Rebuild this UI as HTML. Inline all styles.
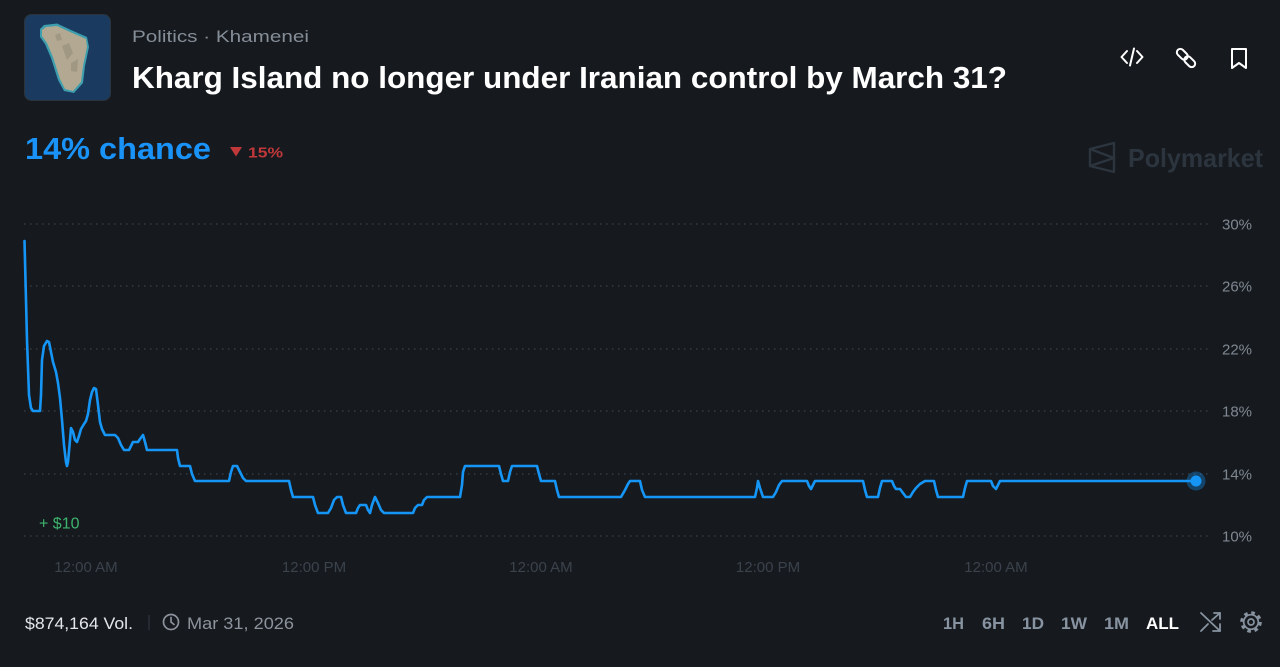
<!DOCTYPE html>
<html>
<head>
<meta charset="utf-8">
<style>
  html,body{margin:0;padding:0;background:#161a1f;}
  body{width:1280px;height:667px;overflow:hidden;}
  svg{display:block;font-family:"Liberation Sans",sans-serif;}
</style>
</head>
<body>
<svg width="1280" height="667" viewBox="0 0 1280 667" xmlns="http://www.w3.org/2000/svg">
  <rect x="0" y="0" width="1280" height="667" fill="#161a1f"/>

  <!-- Island image -->
  <rect x="24.5" y="14.5" width="86" height="86" rx="7" fill="#1c3b5f" stroke="#2b333d" stroke-width="1"/>
  <rect x="26" y="16" width="83" height="83" rx="6" fill="#1a3a60"/>
  <path d="M40,29 L44,25 L57,23.5 L71,30 L87,37 L89,47 L85,66 L83,83 L74,93 L64,91 L58,80 L51,58 L45,44 L40,37 Z" fill="#3d9fae"/>
  <path d="M42,30 L46,27 L57,26 L70,32 L86,39 L87,47 L83,66 L81,82 L73,91 L65,89 L60,79 L53,57 L47,43 L42,36 Z" fill="#b3a892"/>
  <path d="M62,46 L69,43 L73,53 L67,60 Z M71,63 L78,59 L77,72 L71,71 Z M55,35 L60,33 L62,40 L57,41 Z" fill="#958d7c" opacity="0.6"/>

  <!-- Header text -->
  <text x="132" y="42" font-size="17" fill="#858d97" textLength="177" lengthAdjust="spacingAndGlyphs">Politics · Khamenei</text>
  <text x="132" y="88" font-size="31" font-weight="bold" fill="#ffffff" textLength="875" lengthAdjust="spacingAndGlyphs">Kharg Island no longer under Iranian control by March 31?</text>

  <!-- Top right icons -->
  <g fill="none" stroke="#ffffff" stroke-width="2" stroke-linecap="round" stroke-linejoin="round">
    <path d="M1127 51 L1121.5 57 L1127 63"/>
    <path d="M1137 51 L1142.5 57 L1137 63"/>
    <path d="M1134 48.5 L1130 65.5"/>
    <g transform="rotate(45 1186 58)">
      <rect x="1174.5" y="54.5" width="12.5" height="7" rx="3.5"/>
      <rect x="1185" y="54.5" width="12.5" height="7" rx="3.5"/>
    </g>
    <path d="M1232 49 H1246 V68 L1239 63 L1232 68 Z"/>
  </g>

  <!-- Chance -->
  <text x="25" y="159" font-size="31" font-weight="bold" fill="#1a93f8" textLength="186" lengthAdjust="spacingAndGlyphs">14% chance</text>
  <path d="M230 147 L242 147 L236 156.5 Z" fill="#c0383a"/>
  <text x="248" y="157.5" font-size="15" font-weight="bold" fill="#c0383a" textLength="35" lengthAdjust="spacingAndGlyphs">15%</text>

  <!-- Polymarket watermark -->
  <g fill="none" stroke="#2c343e" stroke-width="2.4" stroke-linejoin="round">
    <path d="M1090 149 L1114 143 L1114 172 L1090 166 Z"/>
    <path d="M1090 149 L1114 158 L1090 166"/>
  </g>
  <text x="1128" y="167" font-size="26" font-weight="bold" fill="#2c343e" textLength="135" lengthAdjust="spacingAndGlyphs">Polymarket</text>

  <!-- Grid lines -->
  <g stroke="#333a44" stroke-width="1.5" stroke-dasharray="1.5 4.5">
    <line x1="24" y1="224" x2="1208" y2="224"/>
    <line x1="24" y1="286" x2="1208" y2="286"/>
    <line x1="24" y1="349" x2="1208" y2="349"/>
    <line x1="24" y1="411" x2="1208" y2="411"/>
    <line x1="24" y1="474" x2="1208" y2="474"/>
    <line x1="24" y1="536" x2="1208" y2="536"/>
  </g>

  <!-- Y labels -->
  <g font-size="15" fill="#7f8791">
    <text x="1222" y="229.5">30%</text>
    <text x="1222" y="291.5">26%</text>
    <text x="1222" y="354.5">22%</text>
    <text x="1222" y="416.5">18%</text>
    <text x="1222" y="479.5">14%</text>
    <text x="1222" y="541.5">10%</text>
  </g>

  <!-- X labels -->
  <g font-size="15" fill="#3b424c" text-anchor="middle">
    <text x="86" y="572">12:00 AM</text>
    <text x="314" y="572">12:00 PM</text>
    <text x="541" y="572">12:00 AM</text>
    <text x="768" y="572">12:00 PM</text>
    <text x="996" y="572">12:00 AM</text>
  </g>

  <!-- + $10 -->
  <text x="39" y="528.5" font-size="16" fill="#3db46d">+ $10</text>

  <!-- Series -->
  <polyline fill="none" stroke="#1596f7" stroke-width="2.6" stroke-linejoin="round" stroke-linecap="round"
    points="24.5,241 26,300 27,340 29,395 31,408 33,411 40,411 41,395 42,360 44,346 47,341 49,342 51,352 53,362 56,372 58,383 60,398 62,420 64,445 66,462 67,466 68,462 70,440 71,428 73,432 75,440 77,442 79,436 81,429 84,424 86,421 88,414 90,400 92,392 94,388 96,389 98,405 100,422 102,429 105,435 115,435 118,438 121,445 124,450 129,450 131,446 133,442 138,442 140,439 143,435 145,442 147,450 177,450 178,458 180,466 190,466 192,474 195,481 229,481 231,472 233,466 237,466 240,472 243,478 246,481 289,481 291,490 293,497 313,497 315,505 318,513 328,513 331,508 334,500 337,497 341,497 343,505 346,513 356,513 358,508 360,505 366,505 368,510 370,513 372,505 375,497 378,503 381,510 384,513 413,513 415,508 418,505 422,505 424,500 427,497 460,497 462,485 463,472 465,466 499,466 501,474 503,481 508,481 510,472 512,466 537,466 539,474 541,481 555,481 557,490 559,497 621,497 625,490 628,484 630,481 640,481 642,490 645,497 755,497 757,488 758,481 760,488 763,497 773,497 776,492 779,485 782,481 807,481 809,486 811,489 813,485 815,481 863,481 865,490 867,497 878,497 880,488 882,481 892,481 894,486 896,489 900,489 903,493 906,497 910,497 913,492 916,488 920,484 925,481 934,481 936,490 938,497 963,497 965,488 967,481 991,481 993,486 996,489 998,485 1000,481 1196,481"/>
  <circle cx="1196" cy="481" r="9.5" fill="#1596f7" opacity="0.35"/>
  <circle cx="1196" cy="481" r="5.5" fill="#1596f7"/>

  <!-- Bottom left -->
  <text x="25" y="629" font-size="17" fill="#e4e6ea" textLength="108" lengthAdjust="spacingAndGlyphs">$874,164 Vol.</text>
  <line x1="149" y1="615" x2="149" y2="630" stroke="#30363f" stroke-width="1.2"/>
  <g fill="none" stroke="#8c939c" stroke-width="1.7" stroke-linecap="round">
    <circle cx="171" cy="622" r="7.5"/>
    <path d="M171 617.5 V622 L174 624.5"/>
  </g>
  <text x="187" y="629" font-size="17" fill="#8c939c" textLength="107" lengthAdjust="spacingAndGlyphs">Mar 31, 2026</text>

  <!-- Bottom right controls -->
  <g font-size="17" font-weight="bold" fill="#8793a0">
    <text x="943" y="629" textLength="21" lengthAdjust="spacingAndGlyphs">1H</text>
    <text x="982" y="629" textLength="23" lengthAdjust="spacingAndGlyphs">6H</text>
    <text x="1022" y="629" textLength="22" lengthAdjust="spacingAndGlyphs">1D</text>
    <text x="1061" y="629" textLength="26" lengthAdjust="spacingAndGlyphs">1W</text>
    <text x="1104" y="629" textLength="25" lengthAdjust="spacingAndGlyphs">1M</text>
  </g>
  <text x="1146" y="629" font-size="17" font-weight="bold" fill="#ffffff" textLength="33" lengthAdjust="spacingAndGlyphs">ALL</text>
  <g fill="none" stroke="#8793a0" stroke-width="1.8" stroke-linecap="round" stroke-linejoin="round">
    <path d="M1201 613 L1220 631"/>
    <path d="M1213 631 H1220 V624"/>
    <path d="M1201 631 L1208 624"/>
    <path d="M1212 620 L1220 613"/>
    <path d="M1214 613 H1220 V619"/>
  </g>
  <g fill="none" stroke="#8793a0" stroke-linejoin="round">
    <circle cx="1251" cy="622" r="9.3" stroke-width="3" stroke-dasharray="3.6 3.7"/>
    <circle cx="1251" cy="622" r="7.3" stroke-width="1.7"/>
    <circle cx="1251" cy="622" r="3" stroke-width="1.7"/>
  </g>
</svg>
</body>
</html>
